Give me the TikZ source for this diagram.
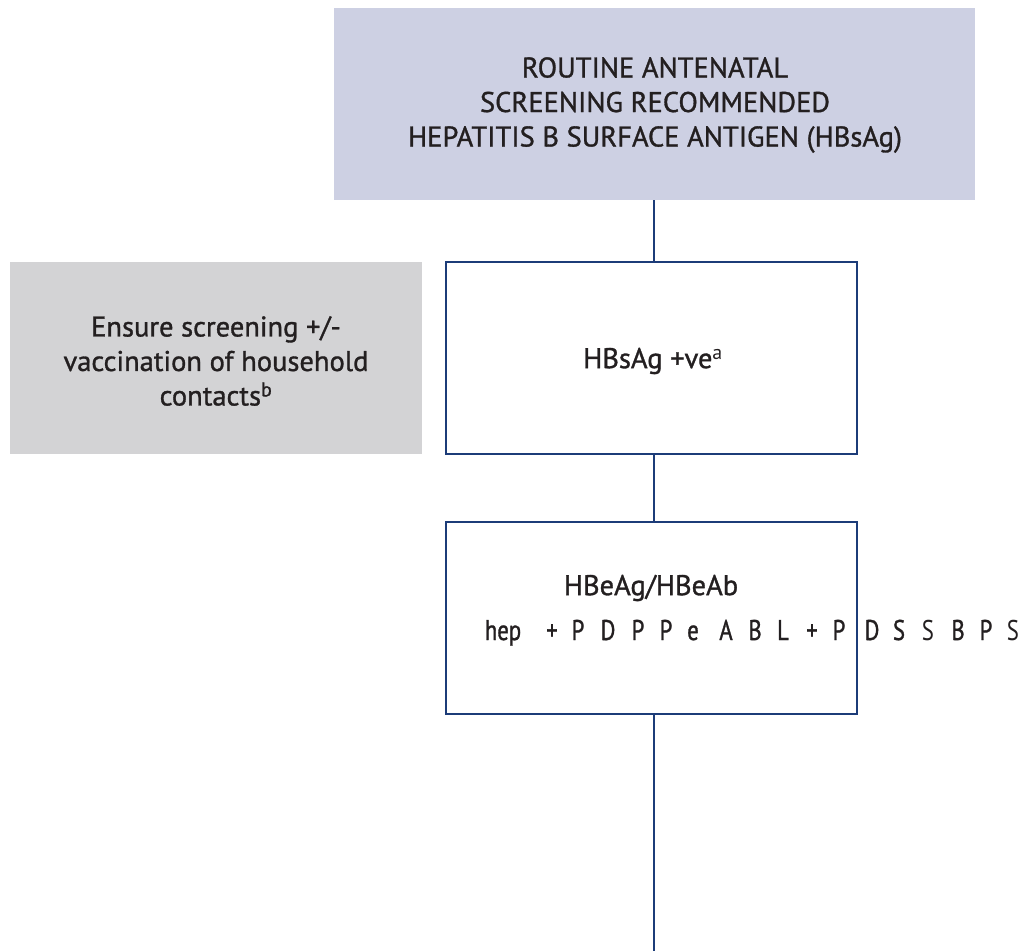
\documentclass[tikz,border=0pt]{standalone}
\usepackage{fontspec}
\setmainfont{PT Sans}[FakeBold=1.1]
\definecolor{navy}{HTML}{1C3C78}
\definecolor{lavender}{HTML}{CDD0E3}
\definecolor{panelgray}{HTML}{D3D3D5}
\definecolor{ink}{HTML}{231F20}
\tikzset{
  box/.style={inner sep=0pt, minimum width=411pt, minimum height=192pt},
  openbox/.style={box, draw=navy, line width=1.2pt, fill=white},
  label/.style={text=ink, font=\fontsize{28.5}{34.5}\selectfont, align=center, inner sep=0pt},
  token/.style={text=ink, font=\fontsize{28.5}{34.5}\selectfont\addfontfeatures{FakeStretch=0.8}, inner sep=0pt, anchor=base},
  thin/.style={font=\fontsize{28.5}{34.5}\selectfont\addfontfeatures{FakeStretch=0.8,FakeBold=0}},
  link/.style={draw=navy, line width=2.6pt}
}
\begin{document}
\begin{tikzpicture}[x=1pt, y=-1pt]
  \useasboundingbox (0,0) rectangle (1032,951);
  % boxes
  \node[box, fill=lavender, minimum width=641pt] (top) at (654.5,104) {};
  \node[box, fill=panelgray, minimum width=412pt] (contacts) at (216,358) {};
  \node[openbox] (pos) at (651.5,358) {};
  \node[openbox] (hbe) at (651.5,618) {};
  % connector axis and free end
  \coordinate (axis) at (654,0);
  \coordinate (end) at (654,951);
  \draw[link] (top.south -| axis) -- (pos.north -| axis);
  \draw[link] (pos.south -| axis) -- (hbe.north -| axis);
  \draw[link] (hbe.south -| axis) -- (end);
  % texts
  \node[label] (toptext) at (655,105) {ROUTINE ANTENATAL\\SCREENING RECOMMENDED\\HEPATITIS B SURFACE ANTIGEN (HBsAg)};
  \node[label] (contactstext) at (216,361) {Ensure screening +/-\\vaccination of household\\contacts\textsuperscript{b}};
  \node[label] (postext) at (653,361) {HBsAg +ve\textsuperscript{\addfontfeatures{FakeBold=0}a}};
  \node[label] (hbetext) at (651,588) {HBeAg/HBeAb};
  \foreach \x/\t [count=\i] in {503/hep,552/+,578/P,608/D,638/P,666/P,693/e,726/A,755/B,783/L,812/+,839/P,872/D,899/S,958/B,986/P}
    \node[token] (tok\i) at (\x,640) {\t};
  % two lighter letters in the trailing run
  \node[token, thin] (tokS1) at (928,640) {S};
  \node[token, thin] (tokS2) at (1013,640) {S};
\end{tikzpicture}
\end{document}
